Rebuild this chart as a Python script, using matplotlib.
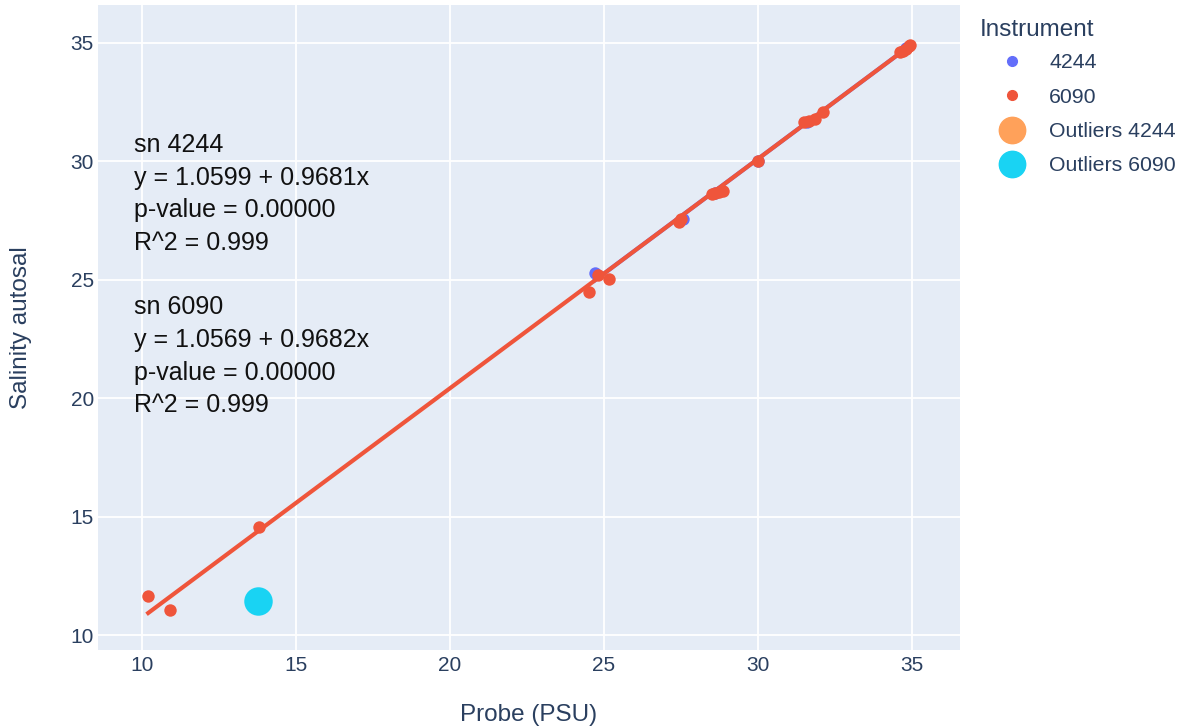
import matplotlib
matplotlib.use("Agg")
import matplotlib.pyplot as plt
from matplotlib.lines import Line2D
import numpy as np

plt.rcParams['font.family'] = ['Liberation Sans', 'DejaVu Sans']

# probe vs autosal readings, sn 6090
probe_6090 = [10.2, 10.9, 13.8, 24.5, 24.8, 25.15, 27.45, 27.5, 28.5, 28.6, 28.75,
              28.85, 30.0, 31.5, 31.65, 31.85, 32.1, 34.6, 34.7, 34.8, 34.9, 34.95]
autosal_6090 = [11.65, 11.05, 14.55, 24.5, 25.2, 25.05, 27.45, 27.55, 28.6, 28.65, 28.7,
                28.75, 30.0, 31.65, 31.7, 31.8, 32.1, 34.6, 34.65, 34.75, 34.85, 34.9]

# sn 4244 readings (mostly underneath the 6090 points)
probe_4244 = [24.7, 27.55, 28.6, 30.0, 31.6, 34.8]
autosal_4244 = [25.3, 27.55, 28.65, 30.0, 31.65, 34.8]

# flagged outliers
outlier_probe_6090 = [13.77]
outlier_autosal_6090 = [11.45]
outlier_probe_4244 = []
outlier_autosal_4244 = []

# regression results
fit_4244 = dict(a=1.0599, b=0.9681, p="0.00000", r2="0.999")
fit_6090 = dict(a=1.0569, b=0.9682, p="0.00000", r2="0.999")

BLUE = '#636EFA'
RED = '#EF553B'
ORANGE = '#FFA15A'
CYAN = '#19D3F3'
FONT_C = '#2a3f5f'

W, H = 1184, 728
fig = plt.figure(figsize=(W / 100, H / 100), dpi=100)
ax = fig.add_axes([98 / W, 78 / H, 862 / W, 645 / H])
ax.set_facecolor('#E5ECF6')
for s in ax.spines.values():
    s.set_visible(False)
ax.grid(True, color='white', lw=1.3)
ax.set_axisbelow(True)

ax.set_xlim(8.57, 36.56)
ax.set_ylim(9.37, 36.6)
ax.set_xticks([10, 15, 20, 25, 30, 35])
ax.set_yticks([10, 15, 20, 25, 30, 35])
ax.tick_params(length=0, labelsize=15, labelcolor=FONT_C)
ax.tick_params(axis='y', pad=3)
ax.tick_params(axis='x', pad=4)

# fitted lines
xs = np.array([min(probe_4244), max(probe_4244)])
ax.plot(xs, fit_4244['a'] + fit_4244['b'] * xs, color=BLUE, lw=3, zorder=2)
xs = np.array([min(probe_6090), max(probe_6090)])
ax.plot(xs, fit_6090['a'] + fit_6090['b'] * xs, color=RED, lw=3, zorder=4)

ax.scatter(probe_4244, autosal_4244, s=80, color=BLUE, lw=0, zorder=3)
ax.scatter(probe_6090, autosal_6090, s=80, color=RED, lw=0, zorder=5)
ax.scatter(outlier_probe_4244, outlier_autosal_4244, s=420, color=ORANGE, lw=0, zorder=6)
ax.scatter(outlier_probe_6090, outlier_autosal_6090, s=420, color=CYAN, lw=0, zorder=6)

ax.set_xlabel('Probe (PSU)', fontsize=17.5, color=FONT_C, va='center')
ax.set_ylabel('Salinity autosal', fontsize=17.5, color=FONT_C, va='center')
ax.xaxis.set_label_coords(0.5, (645 - 715 + 5) / 645)
ax.yaxis.set_label_coords((21 - 98) / 862, 0.5 + (5 + 645 / 2 - 328) / 645)

lines = [
    "sn 4244",
    f"y = {fit_4244['a']:.4f} + {fit_4244['b']:.4f}x",
    f"p-value = {fit_4244['p']}",
    f"R^2 = {fit_4244['r2']}",
    "",
    "sn 6090",
    f"y = {fit_6090['a']:.4f} + {fit_6090['b']:.4f}x",
    f"p-value = {fit_6090['p']}",
    f"R^2 = {fit_6090['r2']}",
]
for i, line in enumerate(lines):
    ypix = 145 + i * 32.5
    ax.text(36 / 862, 1 - (ypix - 5) / 645, line, transform=ax.transAxes,
            fontsize=18, color='#111111', va='center', ha='left')

handles = [
    Line2D([], [], ls='', marker='o', ms=7, color=BLUE),
    Line2D([], [], ls='', marker='o', ms=7, color=RED),
    Line2D([], [], ls='', marker='o', ms=19, color=ORANGE),
    Line2D([], [], ls='', marker='o', ms=19, color=CYAN),
]
labels = ['4244', '6090', 'Outliers 4244', 'Outliers 6090']
leg = fig.legend(handles, labels, title='Instrument', loc='upper left',
                 bbox_to_anchor=(980 / W, 1 - 19 / H), frameon=False,
                 fontsize=15.3, title_fontsize=17.5, labelcolor=FONT_C,
                 handlelength=3.0, handletextpad=0.25, labelspacing=0.72,
                 borderaxespad=0, borderpad=0)
leg.get_title().set_color(FONT_C)
leg._legend_box.align = 'left'
leg._legend_box.sep = 9

fig.savefig('out.png', dpi=100, facecolor='white')
